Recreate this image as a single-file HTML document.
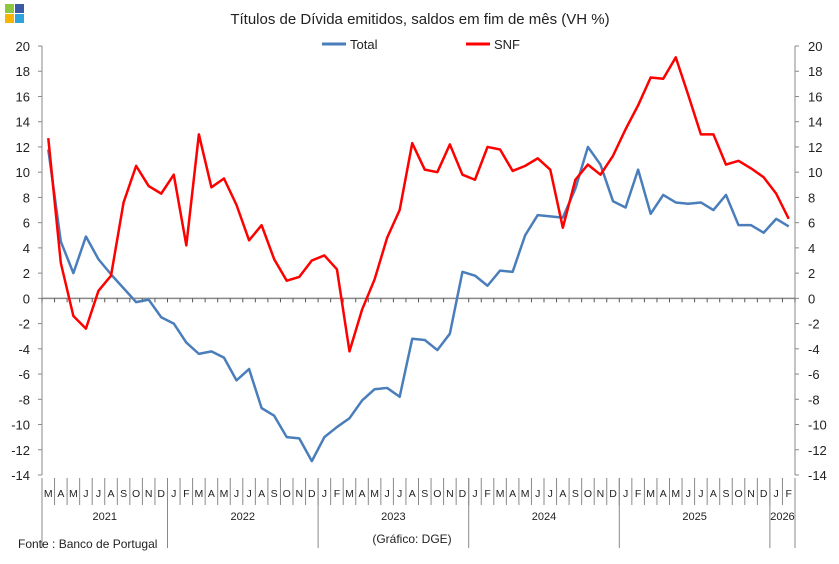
<!DOCTYPE html>
<html><head><meta charset="utf-8">
<style>
body{margin:0;background:#fff;font-family:"Liberation Sans",sans-serif;}
svg text{font-family:"Liberation Sans",sans-serif;fill:#222;}
</style></head>
<body>
<svg id="c" width="839" height="559" xmlns="http://www.w3.org/2000/svg">
<g>
<rect x="5" y="4" width="9" height="9" fill="#8dc63f"/><rect x="15" y="4" width="9" height="9" fill="#3a5aa8"/>
<rect x="5" y="14" width="9" height="9" fill="#f7b500"/><rect x="15" y="14" width="9" height="9" fill="#2ea3dc"/>
</g>
<text x="420" y="24" font-size="15" text-anchor="middle">Títulos de Dívida emitidos, saldos em fim de mês  (VH %)</text>
<g>
<g><line x1="322" y1="44" x2="346" y2="44" stroke="#4a7ebb" stroke-width="3"/><text x="350" y="49" font-size="13">Total</text></g>
<g><line x1="466" y1="44" x2="490" y2="44" stroke="#ff0000" stroke-width="3"/><text x="494" y="49" font-size="13">SNF</text></g>
</g>
<g id="axes"></g>
<g id="series"></g>
<text x="18" y="548" font-size="12">Fonte : Banco de Portugal</text>
<text x="412" y="543" font-size="12" text-anchor="middle">(Gráfico: DGE)</text>
</svg>
<script>
const months=["M","A","M","J","J","A","S","O","N","D","J","F","M","A","M","J","J","A","S","O","N","D","J","F","M","A","M","J","J","A","S","O","N","D","J","F","M","A","M","J","J","A","S","O","N","D","J","F","M","A","M","J","J","A","S","O","N","D","J","F"];
const years=[["2021",10],["2022",12],["2023",12],["2024",12],["2025",12],["2026",2]];
const yTicks=[20,18,16,14,12,10,8,6,4,2,0,-2,-4,-6,-8,-10,-12,-14];
const totalVals=[11.8,4.5,2.0,4.9,3.1,1.9,0.8,-0.3,-0.1,-1.5,-2.0,-3.5,-4.4,-4.2,-4.7,-6.5,-5.6,-8.7,-9.3,-11.0,-11.1,-12.9,-11.0,-10.2,-9.5,-8.1,-7.2,-7.1,-7.8,-3.2,-3.3,-4.1,-2.8,2.1,1.8,1.0,2.2,2.1,5.0,6.6,6.5,6.4,8.7,12.0,10.6,7.7,7.2,10.2,6.7,8.2,7.6,7.5,7.6,7.0,8.2,5.8,5.8,5.2,6.3,5.7];
const snfVals=[12.7,2.8,-1.4,-2.4,0.6,1.8,7.6,10.5,8.9,8.3,9.8,4.2,13.0,8.8,9.5,7.4,4.6,5.8,3.1,1.4,1.7,3.0,3.4,2.3,-4.2,-0.9,1.5,4.8,7.0,12.3,10.2,10.0,12.2,9.8,9.4,12.0,11.8,10.1,10.5,11.1,10.2,5.6,9.4,10.6,9.8,11.3,13.4,15.3,17.5,17.4,19.1,16.1,13.0,13.0,10.6,10.9,10.3,9.6,8.3,6.3];
const NS="http://www.w3.org/2000/svg";
const X0=42,X1=795,Y0=46,Y1=475,ymax=20,ymin=-14;
const n=months.length,bw=(X1-X0)/n;
const xs=i=>X0+bw*(i+0.5);
const ys=v=>Y0+(ymax-v)/(ymax-ymin)*(Y1-Y0);
function mk(t,a,p){const e=document.createElementNS(NS,t);for(const k in a)e.setAttribute(k,a[k]);p.appendChild(e);return e;}
const ax=document.getElementById('axes');
mk('line',{x1:X0,y1:Y0,x2:X0,y2:Y1,stroke:'#888'},ax);
mk('line',{x1:X1,y1:Y0,x2:X1,y2:Y1,stroke:'#888'},ax);
yTicks.forEach(v=>{
 const y=ys(v);
 mk('line',{x1:X0-4,y1:y,x2:X0,y2:y,stroke:'#888'},ax);
 mk('line',{x1:X1,y1:y,x2:X1+4,y2:y,stroke:'#888'},ax);
 const l=mk('text',{x:30,y:y+5,'font-size':13,'text-anchor':'end'},ax);l.textContent=v;
 
 
 const r=mk('text',{x:808,y:y+5,'font-size':13},ax);r.textContent=v;
 
 
});
const y0=ys(0);
mk('line',{x1:X0,y1:y0,x2:X1,y2:y0,stroke:'#888','stroke-width':1.5},ax);
for(let i=0;i<=n;i++){const x=X0+bw*i;mk('line',{x1:x,y1:y0,x2:x,y2:y0+4,stroke:'#555'},ax);
 mk('line',{x1:x,y1:478,x2:x,y2:505,stroke:'#888'},ax);}
months.forEach((m,i)=>{const t=mk('text',{x:xs(i),y:497,'font-size':10.5,'text-anchor':'middle'},ax);t.textContent=m;
 
 });
let acc=0;
mk('line',{x1:X0,y1:478,x2:X0,y2:548,stroke:'#888'},ax);
years.forEach(([yr,c])=>{const xa=X0+bw*acc;acc+=c;const xb=X0+bw*acc;
 mk('line',{x1:xb,y1:478,x2:xb,y2:548,stroke:'#888'},ax);
 const t=mk('text',{x:(xa+xb)/2,y:520,'font-size':11,'text-anchor':'middle'},ax);t.textContent=yr;
 
 });
const sg=document.getElementById('series');
function line(vals,col,name){const p=mk('polyline',{points:vals.map((v,i)=>xs(i)+','+ys(v)).join(' '),fill:'none',stroke:col,'stroke-width':2.5,'stroke-linejoin':'round'},sg);
 
 }
line(totalVals,'#4a7ebb','series-total-line');
line(snfVals,'#ff0000','series-snf-line');
</script>
</body></html>
